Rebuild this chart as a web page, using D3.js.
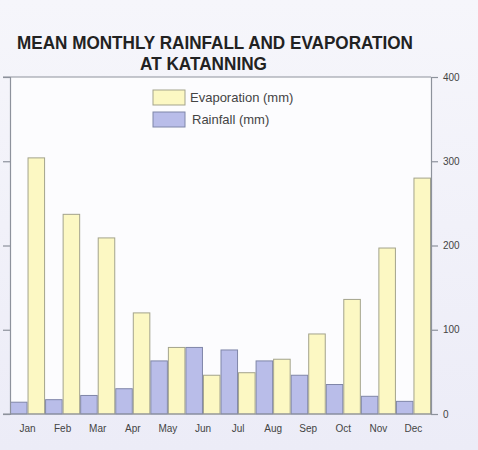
<!DOCTYPE html>
<html>
<head>
<meta charset="utf-8">
<script src="https://cdn.jsdelivr.net/npm/d3@7"></script>
<style>
html,body{margin:0;padding:0;background:#eeeef7;}
svg{display:block;}
</style>
</head>
<body>
<svg id="chart" width="478" height="450"></svg>
<script>
const months = ["Jan","Feb","Mar","Apr","May","Jun","Jul","Aug","Sep","Oct","Nov","Dec"];
const rainfall = [14, 17, 22, 30, 63, 79, 76, 63, 46, 35, 21, 15];
const evaporation = [304, 237, 209, 120, 79, 46, 49, 65, 95, 136, 197, 280];
const yTicks = [0, 100, 200, 300, 400];
const seriesNames = ["Rainfall (mm)", "Evaporation (mm)"];
const titleLines = ["MEAN MONTHLY RAINFALL AND EVAPORATION", "AT KATANNING"];

const W = 478, H = 450;
const plot = {left: 10, right: 431, top: 77, bottom: 414};
const svg = d3.select("#chart");

// background with subtle gradient
const defs = svg.append("defs");
const grad = defs.append("linearGradient").attr("id","bg").attr("x1",0).attr("y1",0).attr("x2",0).attr("y2",1);
grad.append("stop").attr("offset","0%").attr("stop-color","#f6f6fb");
grad.append("stop").attr("offset","100%").attr("stop-color","#ececf7");
svg.append("rect").attr("width",W).attr("height",H).attr("fill","url(#bg)");
svg.append("rect").attr("x",plot.left).attr("y",plot.top)
  .attr("width",plot.right-plot.left).attr("height",plot.bottom-plot.top)
  .attr("fill","#fcfcfe");

const x = d3.scaleBand().domain(months).range([plot.left, plot.right]).padding(0);
const xs = d3.scaleBand().domain(seriesNames).range([0, x.bandwidth()]).padding(0);
const y = d3.scaleLinear().domain([0, 400]).range([plot.bottom, plot.top]);

const colors = {
  "Rainfall (mm)": {fill:"#b9bde9", stroke:"#7f86a8"},
  "Evaporation (mm)": {fill:"#fcf8c3", stroke:"#a3a38c"}
};

const data = months.map((m,i)=>({month:m, "Rainfall (mm)":rainfall[i], "Evaporation (mm)":evaporation[i]}));

const g = svg.append("g");
seriesNames.forEach(s=>{
  g.selectAll(null).data(data).enter().append("rect")
    .attr("x", d=>x(d.month)+xs(s)+0.5)
    .attr("y", d=>y(d[s]))
    .attr("width", xs.bandwidth()-1)
    .attr("height", d=>y(0)-y(d[s]))
    .attr("fill", colors[s].fill)
    .attr("stroke", colors[s].stroke)
    .attr("stroke-width", 1);
});

const axisColor = "#8d929c";
// left axis (ticks only)
const left = svg.append("g").attr("transform",`translate(${plot.left},0)`)
  .call(d3.axisLeft(y).tickValues(yTicks).tickSize(7).tickFormat(""));
// right axis
const right = svg.append("g").attr("transform",`translate(${plot.right},0)`)
  .call(d3.axisRight(y).tickValues(yTicks).tickSize(7).tickPadding(5).tickFormat(d3.format("d")));
[left,right].forEach(a=>{
  a.select(".domain").attr("stroke",axisColor).attr("stroke-width",1.2);
  a.selectAll(".tick line").attr("stroke",axisColor).attr("stroke-width",1.2);
});
right.selectAll(".tick text").attr("fill","#444").style("font-family","'Liberation Sans', Arial, sans-serif").style("font-size","10px");

// top and bottom frame lines
[0,400].forEach(v=>{
  svg.append("line").attr("x1",plot.left-7).attr("x2",plot.right).attr("y1",y(v)).attr("y2",y(v))
    .attr("stroke",axisColor).attr("stroke-width",1.2);
});

// month labels
const bottom = svg.append("g").attr("transform",`translate(0,${plot.bottom})`)
  .call(d3.axisBottom(x).tickSize(0).tickPadding(11));
bottom.select(".domain").remove();
bottom.selectAll(".tick text").attr("fill","#444").style("font-family","'Liberation Sans', Arial, sans-serif").style("font-size","10px");

// title
const titleX = [17, 140], titleY = [49, 70], titleLen = [396, 127];
titleLines.forEach((t,i)=>{
  svg.append("text").attr("x",titleX[i]).attr("y",titleY[i])
    .attr("textLength",titleLen[i]).attr("lengthAdjust","spacingAndGlyphs")
    .style("font-family","'Liberation Sans', Arial, sans-serif").style("font-weight","bold").style("font-size","18px")
    .attr("fill","#222").text(t);
});

// legend
const legendOrder = ["Evaporation (mm)", "Rainfall (mm)"];
const legY = [90, 112];
legendOrder.forEach((s,i)=>{
  svg.append("rect").attr("x",153).attr("y",legY[i]).attr("width",32).attr("height",15)
    .attr("fill",colors[s].fill).attr("stroke",colors[s].stroke).attr("stroke-width",1);
  svg.append("text").attr("x",190 + (i===1?2:0)).attr("y",legY[i]+12)
    .style("font-family","'Liberation Sans', Arial, sans-serif").style("font-size","13px")
    .attr("fill","#444").text(s);
});
</script>
</body>
</html>
